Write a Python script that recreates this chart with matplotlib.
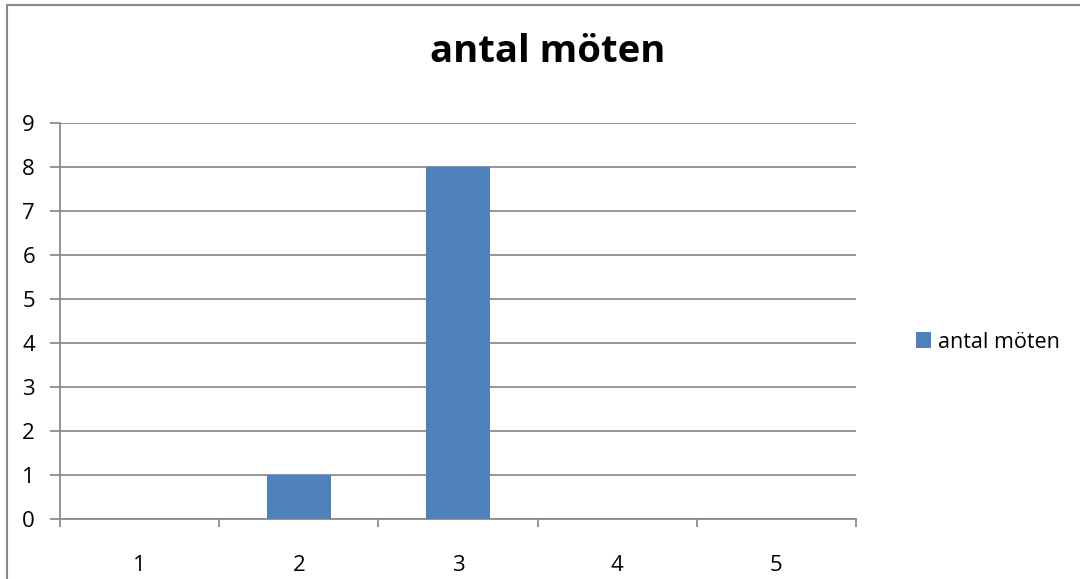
import matplotlib.pyplot as plt
import matplotlib.patches as patches

categories = [1, 2, 3, 4, 5]
values = [0, 1, 8, 0, 0]
series_name = "antal möten"
yticks = list(range(0, 10))

plt.rcParams['font.family'] = ['Open Sans', 'DejaVu Sans']

fig = plt.figure(figsize=(10.8, 5.79), dpi=100)
ax = fig.add_axes([60/1080, 60/579, 796/1080, 396/579])

bar_color = '#4F81BD'
grid_color = '#8C8C8C'

ax.bar(categories, values, width=0.4, color=bar_color, zorder=3, label=series_name)

ax.set_xlim(0.5, 5.5)
ax.set_ylim(0, 9)
ax.set_yticks(yticks)
ax.set_xticks(categories)
ax.set_xticks([c - 0.5 for c in categories] + [5.5], minor=True)
ax.grid(axis='y', color=grid_color, lw=1.3, zorder=0)

for s in ['top', 'right']:
    ax.spines[s].set_visible(False)
for s in ['left', 'bottom']:
    ax.spines[s].set_color(grid_color)
    ax.spines[s].set_linewidth(1.3)

ax.tick_params(axis='y', length=7, width=1.3, color=grid_color, pad=11, labelsize=16)
ax.tick_params(axis='x', which='major', length=0, pad=26, labelsize=16)
ax.tick_params(axis='x', which='minor', length=6, width=1.3, color=grid_color)

fig.text(548/1080, 1 - 52/579, series_name, ha='center', va='center',
         fontsize=27.5, fontweight='bold')

fig.legend(loc='center left', bbox_to_anchor=(897/1080, 1 - 342/579),
           frameon=False, fontsize=15.5, handlelength=0.7, handleheight=0.7,
           handletextpad=0.3)

# chart border
fig.add_artist(patches.Rectangle((7/1080, -0.05), 1.1, 1.05 - 5/579,
                                 transform=fig.transFigure, fill=False,
                                 edgecolor='#888888', lw=1.5))

fig.savefig('out.png', dpi=100)
